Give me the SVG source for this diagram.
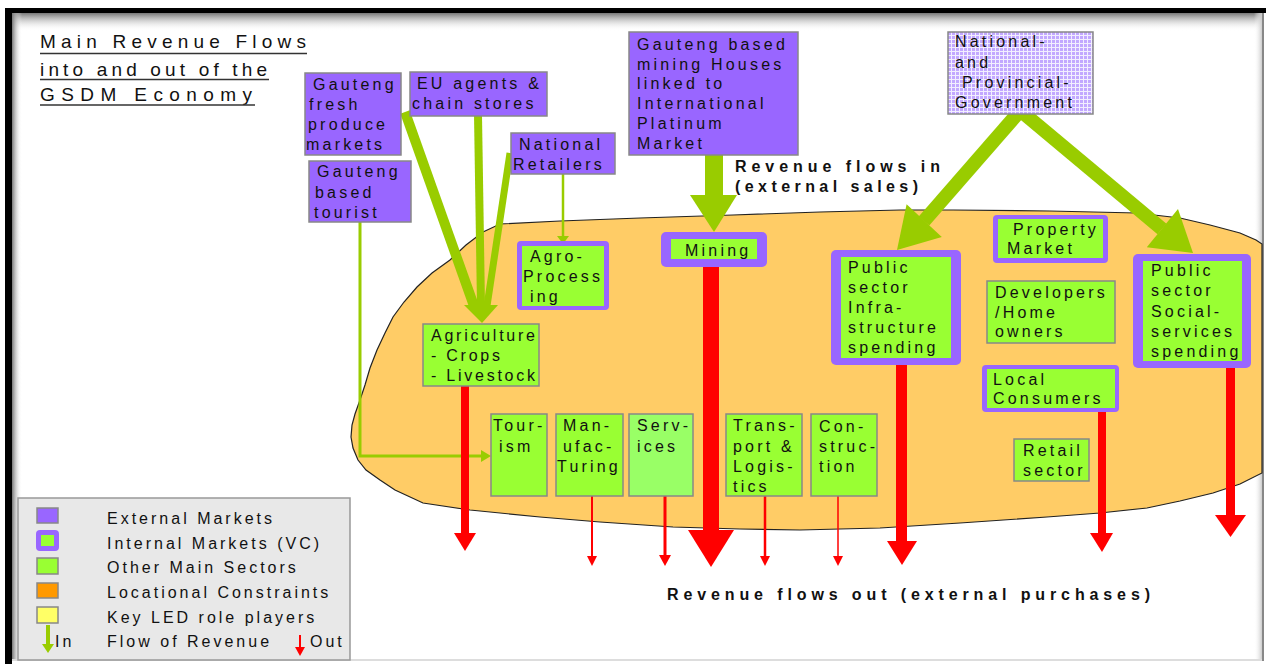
<svg xmlns="http://www.w3.org/2000/svg" width="1266" height="664" viewBox="0 0 1266 664">
  <defs>
    <style>
      .t{font-family:"Liberation Sans",Arial,Helvetica,sans-serif;font-size:16px;letter-spacing:3.2px;fill:#111}
      .title{font-size:19px;letter-spacing:0}
      .bold{font-weight:bold;letter-spacing:0}
      .lg{letter-spacing:3px}
      .ag{letter-spacing:2.75px}
      .ext{fill:#9966FF;stroke:#888;stroke-width:1.5}
      .sec{fill:#99FF33;stroke:#888;stroke-width:1.5}
      .intO{fill:#9966FF}
      .intI{fill:#99FF33}
      .in{fill:#99CC00}
      .inl{stroke:#99CC00;fill:none}
      .out{fill:#FF0000}
      .outl{stroke:#FF0000;fill:none}
      .ul{stroke:#333;stroke-width:1.5}
    </style>
    <linearGradient id="shadeTop" x1="0" y1="0" x2="0" y2="1">
      <stop offset="0" stop-color="#777"/>
      <stop offset="1" stop-color="#fff" stop-opacity="0"/>
    </linearGradient>
    <linearGradient id="shadeLeft" x1="0" y1="0" x2="1" y2="0">
      <stop offset="0" stop-color="#777"/>
      <stop offset="1" stop-color="#fff" stop-opacity="0"/>
    </linearGradient>
    <linearGradient id="shadeRight" x1="1" y1="0" x2="0" y2="0">
      <stop offset="0" stop-color="#ccc"/>
      <stop offset="1" stop-color="#fff" stop-opacity="0"/>
    </linearGradient>
    <pattern id="grid" width="4" height="4" patternUnits="userSpaceOnUse">
      <rect width="4" height="4" fill="#F2EEFF"/>
      <rect width="3" height="3" fill="#C2A8FF"/>
    </pattern>
  </defs>

  <!-- page and frame -->
  <rect width="1266" height="664" fill="#fff"/>
  <rect x="12" y="13" width="1250" height="18" fill="url(#shadeTop)"/>
  <rect x="12" y="13" width="10" height="648" fill="url(#shadeLeft)"/>
  <rect x="1254" y="13" width="8" height="648" fill="url(#shadeRight)"/>
  <rect x="5" y="8" width="1261" height="5" fill="#000"/>
  <rect x="5" y="8" width="7" height="656" fill="#000"/>
  <rect x="1262" y="13" width="2" height="648" fill="#888"/>
  <rect x="12" y="659" width="1250" height="2" fill="#ddd"/>

  <!-- the GSDM economy area -->
  <path id="economy" d="M483,232 L500,224 L560,221 L640,218 L733,215 L820,212 L900,210 L953,210 L1050,211 L1137,213 L1180,218 L1210,225 L1240,233 L1256,240 L1262,244 L1262,473 L1240,484 L1213,493 L1180,501 L1147,508 L1100,513 L1047,517 L960,523 L880,528 L800,530 L740,529 L673,527 L600,522 L540,517 L470,510 L423,503 L395,490 L380,480 L366,470 L358,460 L353,448 L351,437 L352,425 L355,414 L360,400 L365,385 L370,368 L377,350 L385,333 L393,317 L404,302 L417,287 L432,273 L450,260 L466,245 Z" fill="#FFCC66" stroke="#222" stroke-width="1.2"/>

  <!-- title -->
  <g id="title">
    <text class="t title" x="40" y="48" textLength="266" lengthAdjust="spacing">Main Revenue Flows</text>
    <text class="t title" x="40" y="76" textLength="227" lengthAdjust="spacing">into and out of the</text>
    <text class="t title" x="40" y="101" textLength="212" lengthAdjust="spacing">GSDM Economy</text>
    <line class="ul" x1="40" y1="53.5" x2="307" y2="53.5"/>
    <line class="ul" x1="40" y1="79.5" x2="269" y2="79.5"/>
    <line class="ul" x1="40" y1="105" x2="255" y2="105"/>
  </g>

  <!-- revenue flows -->
  <g id="connectors">
    <!-- inflows -->
    <line class="inl" x1="405" y1="112" x2="474" y2="306" stroke-width="10"/>
    <line class="inl" x1="478" y1="115" x2="481" y2="306" stroke-width="8"/>
    <line class="inl" x1="510" y1="153" x2="487" y2="306" stroke-width="7"/>
    <polygon class="in" points="464,305 498,305 482,323"/>
    <polyline class="inl" points="563,174 563,237" stroke-width="2.5"/>
    <polygon class="in" points="557,236 569,236 563,244"/>
    <polyline class="inl" points="360,222 360,456 484,456" stroke-width="3"/>
    <polygon class="in" points="481,450 491,456 481,462"/>
    <rect class="in" x="705" y="154" width="18" height="42"/>
    <polygon class="in" points="690,195 737,195 714,232"/>
    <line class="inl" x1="1019" y1="112" x2="924" y2="221" stroke-width="14"/>
    <polygon class="in" points="941.8,236.9 906.6,204.3 897,250"/>
    <line class="inl" x1="1022" y1="112" x2="1162" y2="229" stroke-width="14"/>
    <polygon class="in" points="1146.8,247.2 1178,209 1193,253"/>

    <!-- outflows -->
    <rect class="out" x="461" y="386" width="8" height="148"/>
    <polygon class="out" points="454,533 476,533 465,551"/>
    <line class="outl" x1="592" y1="496" x2="592" y2="558" stroke-width="2"/>
    <polygon class="out" points="587,556 597,556 592,566"/>
    <line class="outl" x1="665" y1="496" x2="665" y2="558" stroke-width="3"/>
    <polygon class="out" points="659,555 671,555 665,566"/>
    <rect class="out" x="703" y="266" width="16" height="265"/>
    <polygon class="out" points="688,530 734,530 711,567"/>
    <line class="outl" x1="765" y1="496" x2="765" y2="558" stroke-width="2.5"/>
    <polygon class="out" points="760,556 770,556 765,566"/>
    <line class="outl" x1="838" y1="496" x2="838" y2="558" stroke-width="1.5"/>
    <polygon class="out" points="833,556 843,556 838,566"/>
    <rect class="out" x="896" y="364" width="11" height="179"/>
    <polygon class="out" points="887,541 917,541 902,565"/>
    <rect class="out" x="1098" y="411" width="8" height="123"/>
    <polygon class="out" points="1090,533 1113,533 1102,552"/>
    <rect class="out" x="1226" y="367" width="9" height="149"/>
    <polygon class="out" points="1215,515 1246,515 1230.5,537"/>
  </g>

  <text class="t bold" x="735" y="172" textLength="205" lengthAdjust="spacing">Revenue flows in</text>
  <text class="t bold" x="735" y="192" textLength="183" lengthAdjust="spacing">(external sales)</text>
  <text class="t bold" x="667" y="600" textLength="483" lengthAdjust="spacing">Revenue flows out (external purchases)</text>

  <!-- external markets -->
  <g id="fresh-produce">
    <rect class="ext" x="305" y="73" width="96" height="82"/>
    <text class="t" x="313" y="90">Gauteng</text>
    <text class="t" x="309" y="110">fresh</text>
    <text class="t" x="308" y="130">produce</text>
    <text class="t" x="306" y="150">markets</text>
  </g>
  <g id="tourist">
    <rect class="ext" x="309" y="161" width="102" height="61"/>
    <text class="t" x="317" y="177">Gauteng</text>
    <text class="t" x="315" y="198">based</text>
    <text class="t" x="314" y="218">tourist</text>
  </g>
  <g id="eu-agents">
    <rect class="ext" x="410" y="72" width="137" height="44"/>
    <text class="t" x="417" y="89">EU agents &amp;</text>
    <text class="t" x="412" y="109">chain stores</text>
  </g>
  <g id="national-retailers">
    <rect class="ext" x="511" y="133" width="104" height="41"/>
    <text class="t" x="519" y="150">National</text>
    <text class="t" x="513" y="170">Retailers</text>
  </g>
  <g id="mining-houses">
    <rect class="ext" x="629" y="32" width="169" height="123"/>
    <text class="t" x="637" y="50">Gauteng based</text>
    <text class="t" x="637" y="70">mining Houses</text>
    <text class="t" x="637" y="89">linked to</text>
    <text class="t" x="637" y="109">International</text>
    <text class="t" x="637" y="129">Platinum</text>
    <text class="t" x="637" y="149">Market</text>
  </g>
  <g id="government">
    <rect x="948" y="32" width="145" height="82" fill="url(#grid)" stroke="#888" stroke-width="1.5"/>
    <text class="t" x="955" y="47">National-</text>
    <text class="t" x="955" y="68">and</text>
    <text class="t" x="962" y="88">Provincial-</text>
    <text class="t" x="955" y="108">Government</text>
  </g>

  <!-- internal markets -->
  <g id="agro-processing">
    <rect class="intO" x="517" y="241" width="92" height="69" rx="4"/>
    <rect class="intI" x="522" y="246" width="82" height="60"/>
    <text class="t" x="530" y="262">Agro-</text>
    <text class="t" x="523" y="282">Process</text>
    <text class="t" x="530" y="302">ing</text>
  </g>
  <g id="mining">
    <rect class="intO" x="661" y="232" width="106" height="35" rx="5"/>
    <rect class="intI" x="671" y="239" width="86" height="20"/>
    <text class="t" x="685" y="256">Mining</text>
  </g>
  <g id="infrastructure">
    <rect class="intO" x="831" y="250" width="130" height="115" rx="5"/>
    <rect class="intI" x="841" y="257" width="110" height="101"/>
    <text class="t" x="848" y="273">Public</text>
    <text class="t" x="848" y="293">sector</text>
    <text class="t" x="848" y="313">Infra-</text>
    <text class="t" x="848" y="333">structure</text>
    <text class="t" x="848" y="353">spending</text>
  </g>
  <g id="property-market">
    <rect class="intO" x="993" y="215" width="115" height="48" rx="4"/>
    <rect class="intI" x="998" y="219" width="105" height="39"/>
    <text class="t" x="1013" y="235">Property</text>
    <text class="t" x="1007" y="254">Market</text>
  </g>
  <g id="local-consumers">
    <rect class="intO" x="982" y="365" width="137" height="47" rx="4"/>
    <rect class="intI" x="987" y="369" width="128" height="39"/>
    <text class="t" x="993" y="385">Local</text>
    <text class="t" x="993" y="404">Consumers</text>
  </g>
  <g id="social-services">
    <rect class="intO" x="1133" y="254" width="118" height="114" rx="5"/>
    <rect class="intI" x="1143" y="261" width="99" height="100"/>
    <text class="t" x="1151" y="276">Public</text>
    <text class="t" x="1151" y="296">sector</text>
    <text class="t" x="1151" y="317">Social-</text>
    <text class="t" x="1151" y="337">services</text>
    <text class="t" x="1151" y="357">spending</text>
  </g>

  <!-- other main sectors -->
  <g id="developers">
    <rect class="sec" x="987" y="281" width="128" height="62"/>
    <text class="t" x="995" y="298">Developers</text>
    <text class="t" x="995" y="318">/Home</text>
    <text class="t" x="995" y="337">owners</text>
  </g>
  <g id="retail">
    <rect class="sec" x="1014" y="439" width="75" height="42"/>
    <text class="t" x="1023" y="456">Retail</text>
    <text class="t" x="1023" y="476">sector</text>
  </g>
  <g id="agriculture">
    <rect class="sec" x="423" y="324" width="116" height="62"/>
    <text class="t ag" x="431" y="341">Agriculture</text>
    <text class="t ag" x="431" y="361">- Crops</text>
    <text class="t ag" x="431" y="381">- Livestock</text>
  </g>
  <g id="tourism">
    <rect class="sec" x="491" y="414" width="56" height="82"/>
    <text class="t" x="493" y="431">Tour-</text>
    <text class="t" x="499" y="452">ism</text>
  </g>
  <g id="manufacturing">
    <rect class="sec" x="556" y="414" width="67" height="82"/>
    <text class="t" x="563" y="431">Man-</text>
    <text class="t" x="563" y="452">ufac-</text>
    <text class="t" x="557" y="472">Turing</text>
  </g>
  <g id="services">
    <rect class="sec" x="629" y="414" width="64" height="82" style="fill:#99FF66"/>
    <text class="t" x="637" y="431">Serv-</text>
    <text class="t" x="637" y="452">ices</text>
  </g>
  <g id="transport">
    <rect class="sec" x="726" y="414" width="76" height="82"/>
    <text class="t" x="733" y="431">Trans-</text>
    <text class="t" x="733" y="452">port &amp;</text>
    <text class="t" x="733" y="472">Logis-</text>
    <text class="t" x="733" y="492">tics</text>
  </g>
  <g id="construction">
    <rect class="sec" x="811" y="414" width="66" height="82"/>
    <text class="t" x="819" y="432">Con-</text>
    <text class="t" x="819" y="452">struc-</text>
    <text class="t" x="819" y="472">tion</text>
  </g>

  <!-- legend -->
  <g id="legend">
    <rect x="18" y="498" width="332" height="162" fill="#E8E8E8" stroke="#999" stroke-width="1.5"/>
    <rect class="ext" x="37" y="508" width="21" height="15"/>
    <rect class="intO" x="36" y="530" width="23" height="21" rx="4"/>
    <rect class="intI" x="41" y="535" width="13" height="11"/>
    <rect class="sec" x="37" y="558" width="21" height="16"/>
    <rect x="37" y="583" width="21" height="15" fill="#FF9900" stroke="#888" stroke-width="1.5"/>
    <rect x="37" y="607" width="21" height="16" fill="#FFFF66" stroke="#888" stroke-width="1.5"/>
    <line class="inl" x1="48" y1="625" x2="48" y2="645" stroke-width="4"/>
    <polygon class="in" points="42,644 54,644 48,653"/>
    <line class="outl" x1="300" y1="635" x2="300" y2="648" stroke-width="2"/>
    <polygon class="out" points="295,647 305,647 300,656"/>
    <text class="t lg" x="107" y="524">External Markets</text>
    <text class="t lg" x="107" y="549">Internal Markets (VC)</text>
    <text class="t lg" x="107" y="573">Other Main Sectors</text>
    <text class="t lg" x="107" y="598">Locational Constraints</text>
    <text class="t lg" x="107" y="623">Key LED role players</text>
    <text class="t lg" x="107" y="647">Flow of Revenue</text>
    <text class="t lg" x="55" y="647">In</text>
    <text class="t lg" x="310" y="647">Out</text>
  </g>
</svg>
